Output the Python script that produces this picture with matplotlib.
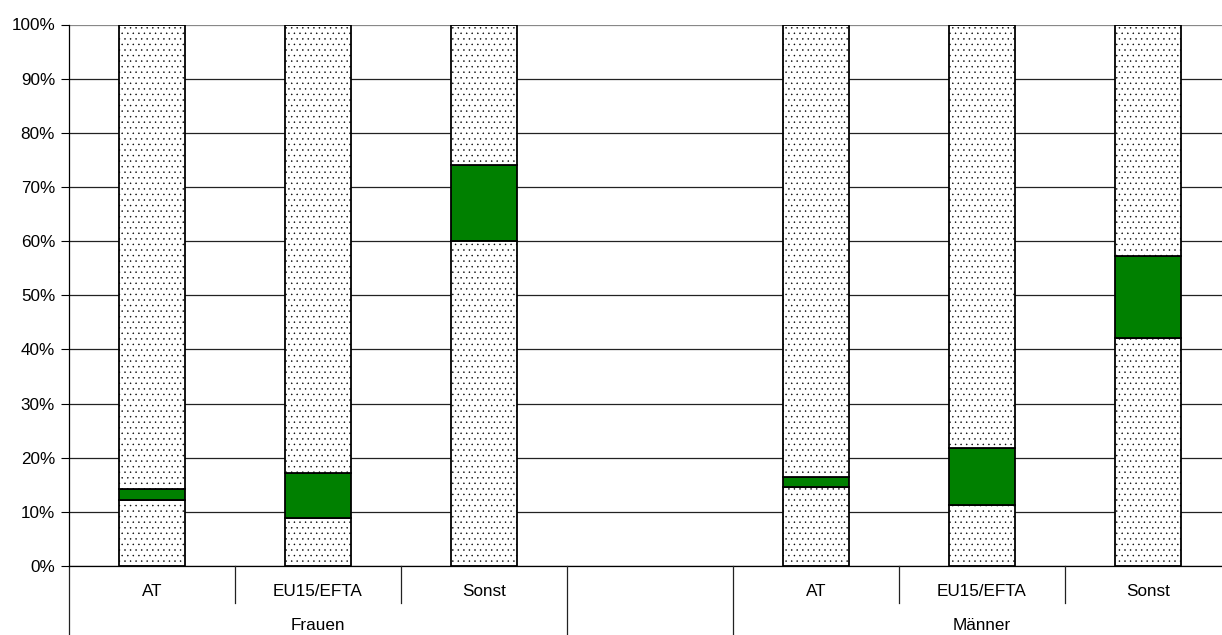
import matplotlib
matplotlib.use("Agg")
import matplotlib.pyplot as plt
import matplotlib.transforms as mtransforms

plt.rcParams['font.family'] = ['Liberation Sans', 'DejaVu Sans']
plt.rcParams['hatch.linewidth'] = 0.3
plt.rcParams['hatch.color'] = '#7a7a7a'

# Data
categories = ["AT", "EU15/EFTA", "Sonst", "", "AT", "EU15/EFTA", "Sonst"]
groups = ["Frauen", "", "Männer"]
group_spans = [(0, 2), (3, 3), (4, 6)]
lower_share = [12.2, 8.9, 60.0, None, 14.5, 11.3, 42.1]   # dotted bottom segment
middle_share = [2.1, 8.3, 14.0, None, 2.0, 10.4, 15.2]   # green segment
yticks = list(range(0, 101, 10))
ytick_labels = [f"{v}%" for v in yticks]

FS = 12.3
W, H = 1222, 635
fig = plt.figure(figsize=(W / 100, H / 100), dpi=100)
left_px, right_px, top_px, bot_px = 69, 1231, 24.5, 566
ax = fig.add_axes([left_px / W, 1 - bot_px / H, (right_px - left_px) / W, (bot_px - top_px) / H])

ax.set_xlim(-0.5, len(categories) - 0.5)
ax.set_ylim(0, 100)
ax.set_yticks(yticks)
ax.set_yticklabels(ytick_labels, fontsize=FS)
ax.set_xticks([])
ax.tick_params(axis='y', length=6, width=0.8, direction='out', pad=4)
for y in yticks:
    ax.axhline(y, color='#222222' if y < 100 else '#888888', lw=0.9, zorder=1)

for s in ['top', 'right']:
    ax.spines[s].set_visible(False)
ax.spines['left'].set_linewidth(0.9)
ax.spines['bottom'].set_linewidth(0.9)
ax.spines['left'].set_zorder(4)

bw = 0.4
for i, (lo, mid) in enumerate(zip(lower_share, middle_share)):
    if lo is None:
        continue
    top = 100 - lo - mid
    ax.bar(i, lo, bottom=0, width=bw, facecolor='white', edgecolor='black', lw=1.3, hatch='...', zorder=3)
    ax.bar(i, mid, bottom=lo, width=bw, facecolor='#008000', edgecolor='black', lw=1.3, zorder=3)
    ax.bar(i, top, bottom=lo + mid, width=bw, facecolor='white', edgecolor='black', lw=1.3, hatch='...', zorder=3)

# category axis (two-level)
trans = mtransforms.blended_transform_factory(ax.transData, ax.transAxes)
ax_h = bot_px - top_px
def yax(px):
    return (bot_px - px) / ax_h

for i, c in enumerate(categories):
    ax.text(i, yax(591), c, transform=trans, ha='center', va='center', fontsize=FS, clip_on=False)
for g, (a, b) in zip(groups, group_spans):
    ax.text((a + b) / 2, yax(625), g, transform=trans, ha='center', va='center', fontsize=FS, clip_on=False)

# separators
long_bounds = set()
for a, b in group_spans:
    long_bounds.add(a - 0.5)
    long_bounds.add(b + 0.5)
for k in range(len(categories) + 1):
    x = k - 0.5
    if x in long_bounds:
        ax.plot([x, x], [0, yax(640)], transform=trans, color='#222222', lw=0.9, clip_on=False, zorder=4)
    else:
        ax.plot([x, x], [0, yax(603)], transform=trans, color='#222222', lw=0.9, clip_on=False, zorder=4)

fig.savefig("out.png", dpi=100)
